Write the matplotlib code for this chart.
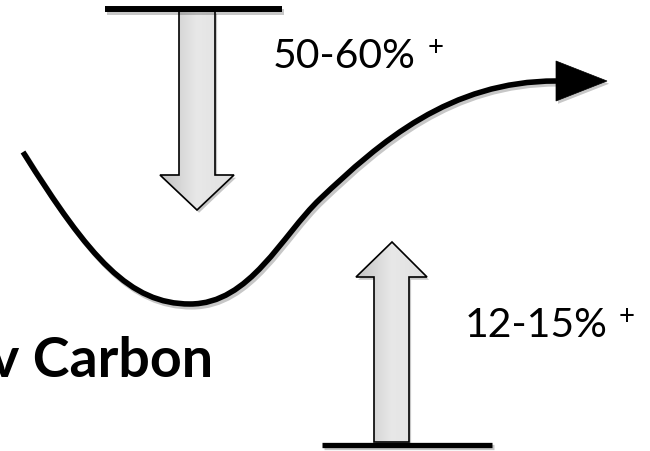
import numpy as np
import matplotlib.pyplot as plt
from matplotlib.path import Path
from matplotlib.patches import PathPatch, Polygon
from matplotlib.colors import LinearSegmentedColormap
import matplotlib.patheffects as pe

# labels
share_labels = ["50-60%", "12-15%"]
sup_label = "+"
side_label = "v Carbon"

# curve (cubic bezier control points, pixel coords, y down)
curve_pts = [(23, 153), (90, 260), (130, 305), (190, 305),
             (250, 305), (282, 236), (320, 200),
             (380, 143), (450, 82), (556, 82)]
head_pts = [(556, 62), (556, 102), (607, 82)]

down_arrow = [(179, 12), (215, 12), (215, 176), (234, 176), (197, 211), (160, 176), (179, 176)]
up_arrow = [(374, 443), (409, 443), (409, 278), (427, 278), (392, 243), (356, 278), (374, 278)]

fig = plt.figure(figsize=(6.5, 4.52), dpi=100)
ax = fig.add_axes([0, 0, 1, 1])

shadow_line = [pe.SimpleLineShadow(offset=(1.5, -2), shadow_color='k', alpha=0.22), pe.Normal()]
shadow_patch = [pe.SimplePatchShadow(offset=(1.5, -2), shadow_rgbFace='k', alpha=0.22), pe.Normal()]

codes = [Path.MOVETO] + [Path.CURVE4] * (len(curve_pts) - 1)
ax.add_patch(PathPatch(Path(curve_pts, codes), fill=False, lw=4.0, ec='black',
                       capstyle='butt', path_effects=shadow_line, zorder=4))
ax.add_patch(Polygon(head_pts, closed=True, fc='black', ec='black', lw=0.5,
                     path_effects=shadow_patch, zorder=4))

grey = LinearSegmentedColormap.from_list('grey', ['#c2c2c2', '#e8e8e8', '#e0e0e0'])


def block_arrow(pts):
    base = Polygon(pts, closed=True, fc='#d8d8d8', ec='none', path_effects=shadow_patch, zorder=2)
    ax.add_patch(base)
    xs, ys = zip(*pts)
    grad = np.linspace(0, 1, 256).reshape(1, -1)
    im = ax.imshow(grad, cmap=grey, extent=(min(xs), max(xs), max(ys), min(ys)),
                   aspect='auto', zorder=2.5, interpolation='bilinear')
    im.set_clip_path(base)
    ax.add_patch(Polygon(pts, closed=True, fc='none', ec='black', lw=1.2, joinstyle='miter', zorder=3))


block_arrow(down_arrow)
block_arrow(up_arrow)

ax.plot([105, 282], [10, 10], color='black', lw=4.3, solid_capstyle='butt', path_effects=shadow_line, zorder=4)
ax.plot([322, 492], [445.5, 445.5], color='black', lw=3.8, solid_capstyle='butt', path_effects=shadow_line, zorder=4)

ax.text(273, 68, share_labels[0], fontsize=29.5, family='Lato', ha='left', va='baseline')
ax.text(436, 48, sup_label, fontsize=20, family='Lato', ha='center', va='center')
ax.text(465, 337, share_labels[1], fontsize=29.5, family='Lato', ha='left', va='baseline')
ax.text(627, 317, sup_label, fontsize=20, family='Lato', ha='center', va='center')
ax.text(213, 377, side_label, fontsize=40, family='Lato', fontweight='bold', ha='right', va='baseline')

ax.set_xlim(0, 650)
ax.set_ylim(452, 0)
ax.axis('off')

plt.savefig("out.png", dpi=100)
